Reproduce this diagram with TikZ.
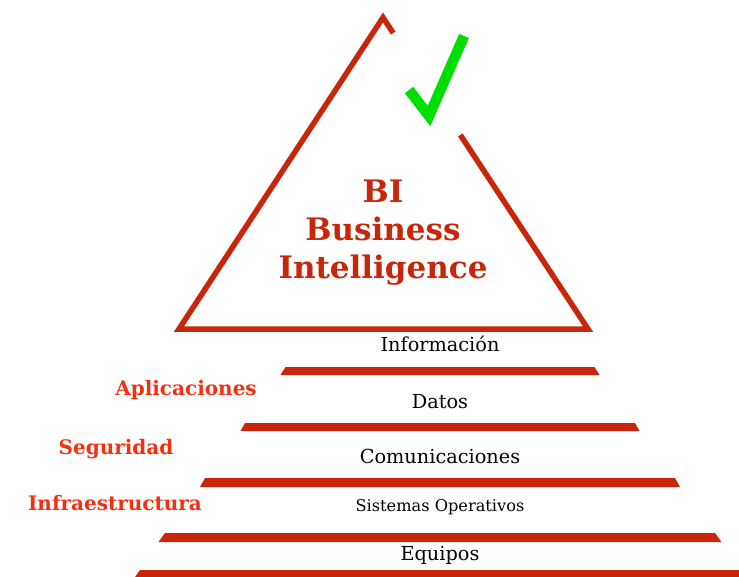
\documentclass[tikz,border=0pt]{standalone}
\usepackage{fontspec}
\setmainfont{DejaVu Serif}
\usepackage{tikz}
\usetikzlibrary{calc}

\definecolor{bired}{RGB}{200,38,10}
\definecolor{labred}{RGB}{245,48,18}
\definecolor{okgreen}{RGB}{0,221,0}

\tikzset{
    level/.style={text=black, font=\fontsize{19.3}{21}\selectfont},
    side/.style={text=labred, font=\bfseries\fontsize{20}{22}\selectfont},
    bar/.style={fill=bired, draw=none}
}

\begin{document}
\begin{tikzpicture}[x=1pt, y=-1pt, line cap=butt, line join=miter]
                \useasboundingbox (0,0) rectangle (739,576);

                % Triangle with a gap at the top right
                \coordinate (apex) at (383,17.5);
                \coordinate (bl) at (179,329);
                \coordinate (br) at (588,329);
                \draw[bired, line width=5.5pt] ($(apex)!0.377!(br)$) -- (br) -- (bl) -- (apex) -- ($(apex)!0.05!(br)$);

                % Check mark
                \draw[okgreen, line width=10.5pt] (409,90) -- (429,116) -- (464,36);

                % Title
                \node[text=bired, font=\bfseries\fontsize{31}{38}\selectfont, align=center] (bi) at (383,233) {BI\\Business\\Intelligence};

                % Red bars (top y / bottom y / half width top / half width bottom)
                \foreach \yt/\yb/\wt/\wb in {367/375/154.5/159.5, 423/431/195/199.5, 478/487/235/240, 533/542/275/281.5, 570/580/300/307}{
                    \fill[bar] (440-\wt,\yt) -- (440+\wt,\yt) -- (440+\wb,\yb) -- (440-\wb,\yb) -- cycle;
                }

                % Level labels
                \node[level] (info) at (440,344) {Información};
                \node[level] (datos) at (440,402) {Datos};
                \node[level] (comun) at (440,456) {Comunicaciones};
                \node[level, font=\fontsize{16.2}{18}\selectfont] (sisop) at (440,507) {Sistemas Operativos};
                \node[level] (equipos) at (440,555) {Equipos};

                % Side labels
                \node[side] (apl) at (186,390) {Aplicaciones};
                \node[side] (seg) at (116,449) {Seguridad};
                \node[side] (infra) at (115,503) {Infraestructura};

            \end{tikzpicture}
\end{document}
